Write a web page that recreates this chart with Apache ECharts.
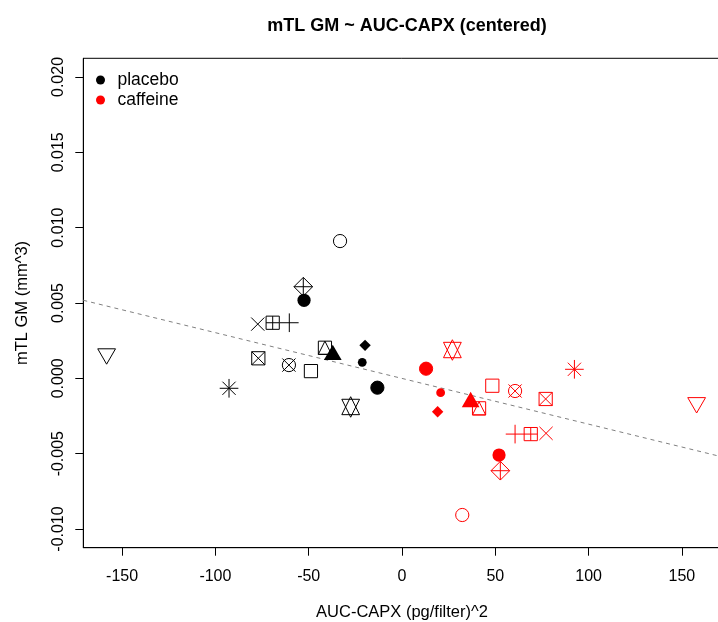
<!DOCTYPE html>
<html>
<head>
<meta charset="utf-8">
<script src="https://cdn.jsdelivr.net/npm/echarts@6/dist/echarts.min.js"></script>
<style>
  html, body { margin: 0; padding: 0; background: #fff; }
  #chart { width: 718px; height: 622px; }
</style>
</head>
<body>
<div id="chart"></div>
<script>
// one plotting symbol per subject (R pch style), same order in both groups
const symbols = ['square', 'circle', 'plus', 'cross', 'triangleDown', 'squareCross', 'asterisk',
  'diamondPlus', 'star', 'squarePlus', 'circleCross', 'squareTriangle', 'disc', 'triangle',
  'diamondFilled', 'discBorder', 'dot']

const placeboX = [-48.8, -33.2, -60.4, -77.3, -158.3, -77.0, -92.7, -52.9, -27.5, -69.3, -60.6, -41.3, -52.5, -37.1, -19.8, -13.2, -21.3]
const placeboY = [0.00048, 0.00911, 0.00369, 0.00360, 0.00162, 0.00133, -0.00066, 0.00608, -0.00190, 0.00369, 0.00088, 0.00203, 0.00518, 0.00155, 0.00219, -0.00062, 0.00106]
const caffeineX = [48.4, 32.3, 60.6, 77.2, 157.9, 77.0, 92.4, 52.7, 27.0, 69.0, 60.6, 41.3, 52.0, 36.8, 19.1, 12.9, 20.7]
const caffeineY = [-0.00049, -0.00907, -0.00370, -0.00365, -0.00162, -0.00137, 0.00060, -0.00613, 0.00188, -0.00370, -0.00084, -0.00199, -0.00509, -0.00157, -0.00222, 0.00064, -0.00095]

// fitted line (abline), ends at the plot borders
const fitX = [-170.8, 170.8]
const fitY = [0.00518, -0.00519]

const xTicks = [-150, -100, -50, 0, 50, 100, 150]
const yTicks = [-0.010, -0.005, 0.000, 0.005, 0.010, 0.015, 0.020]

const FONT = 'Liberation Sans, Arial, sans-serif'
const R = 6.6

function pch(kind, cx, cy, color) {
  const s = { stroke: color, fill: 'none', lineWidth: 1 }
  const f = { fill: color, stroke: 'none' }
  const line = (x1, y1, x2, y2) => ({ type: 'line', shape: { x1, y1, x2, y2 }, style: s })
  const rect = h => ({ type: 'rect', shape: { x: cx - h, y: cy - h, width: 2 * h, height: 2 * h }, style: s })
  const circ = (r, st) => ({ type: 'circle', shape: { cx, cy, r }, style: st })
  const poly = (pts, st) => ({ type: 'polygon', shape: { points: pts }, style: st })
  const plus = h => [line(cx - h, cy, cx + h, cy), line(cx, cy - h, cx, cy + h)]
  const cross = h => [line(cx - h, cy - h, cx + h, cy + h), line(cx - h, cy + h, cx + h, cy - h)]
  const tr = 1.5551 * R, tx = tr * Math.sqrt(3) / 2
  const up = yc => [[cx, cy - tr], [cx + tx, cy + yc], [cx - tx, cy + yc]]
  const down = yc => [[cx, cy + tr], [cx + tx, cy - yc], [cx - tx, cy - yc]]
  const d = Math.SQRT2 * R
  switch (kind) {
    case 'square': return [rect(R)]
    case 'circle': return [circ(R, s)]
    case 'plus': return plus(d)
    case 'cross': return cross(R)
    case 'triangleDown': return [poly(down(tr / 2), s)]
    case 'squareCross': return [rect(R)].concat(cross(R))
    case 'asterisk': return plus(d).concat(cross(R))
    case 'diamondPlus': return [poly([[cx, cy - d], [cx + d, cy], [cx, cy + d], [cx - d, cy]], s)].concat(plus(d))
    case 'star': {
      const yc = 0.5 * (tr / 2 + tr)
      return [poly(up(yc), s), poly(down(yc), s)]
    }
    case 'squarePlus': return [rect(R)].concat(plus(R))
    case 'circleCross': return [circ(R, s)].concat(cross(R))
    case 'squareTriangle': return [rect(R), poly([[cx, cy - R], [cx + R, cy + R], [cx - R, cy + R]], s)]
    case 'disc': return [circ(R, f)]
    case 'triangle': return [poly(up(tr / 2), f)]
    case 'diamondFilled': {
      const h = 5.7
      return [poly([[cx, cy - h], [cx + h, cy], [cx, cy + h], [cx - h, cy]], f)]
    }
    case 'discBorder': return [circ(R, { fill: color, stroke: color, lineWidth: 1 })]
    case 'dot': return [circ(R * 2 / 3, f)]
  }
  return []
}

function groupSeries(name, xs, ys, color) {
  return {
    name: name,
    type: 'custom',
    itemStyle: { color: color },
    data: xs.map((x, i) => [x, ys[i], i]),
    renderItem: (params, api) => {
      const p = api.coord([api.value(0), api.value(1)])
      return { type: 'group', children: pch(symbols[api.value(2)], p[0], p[1], color) }
    },
    z: 3
  }
}

const chart = echarts.init(document.getElementById('chart'))
chart.setOption({
  animation: false,
  backgroundColor: '#fff',
  textStyle: { fontFamily: FONT },
  title: {
    text: 'mTL GM ~ AUC-CAPX (centered)',
    left: 402, top: 12, textAlign: 'center',
    textStyle: { fontSize: 18, fontWeight: 'bold', color: '#000', fontFamily: FONT }
  },
  legend: {
    data: ['placebo', 'caffeine'],
    orient: 'vertical', left: 91, top: 65,
    icon: 'circle', itemWidth: 24, itemHeight: 9, itemGap: 0,
    selectedMode: false,
    textStyle: { fontSize: 17.5, lineHeight: 20, color: '#000', fontFamily: FONT }
  },
  grid: {
    left: 83.3, top: 58.3, width: 637.4, height: 489.4,
    outerBoundsMode: 'none',
    show: true, borderColor: '#000', borderWidth: 1, backgroundColor: 'transparent'
  },
  xAxis: {
    type: 'value', min: -170.8, max: 170.8,
    name: 'AUC-CAPX (pg/filter)^2', nameLocation: 'middle', nameGap: 56,
    nameTextStyle: { fontSize: 16.5, color: '#000', fontFamily: FONT },
    axisLine: { show: true, onZero: false, lineStyle: { color: '#000', width: 1 } },
    axisTick: { show: true, length: 8, customValues: xTicks, lineStyle: { color: '#000' } },
    axisLabel: { customValues: xTicks, fontSize: 16, color: '#000', margin: 21, fontFamily: FONT },
    splitLine: { show: false }
  },
  yAxis: {
    type: 'value', min: -0.01124, max: 0.02124,
    name: 'mTL GM (mm^3)', nameLocation: 'middle', nameGap: 52, nameRotate: 90,
    nameTextStyle: { fontSize: 16.5, color: '#000', fontFamily: FONT },
    axisLine: { show: true, onZero: false, lineStyle: { color: '#000', width: 1 } },
    axisTick: { show: true, length: 8, customValues: yTicks, lineStyle: { color: '#000' } },
    axisLabel: {
      customValues: yTicks, rotate: 90, fontSize: 16, color: '#000', margin: 17, fontFamily: FONT,
      formatter: v => v.toFixed(3)
    },
    splitLine: { show: false }
  },
  series: [
    {
      name: 'fit', type: 'line', data: fitX.map((x, i) => [x, fitY[i]]),
      symbol: 'none', silent: true, z: 1,
      lineStyle: { color: '#808080', width: 1, type: [4, 4] }
    },
    groupSeries('placebo', placeboX, placeboY, '#000000'),
    groupSeries('caffeine', caffeineX, caffeineY, '#ff0000')
  ]
})
</script>
</body>
</html>
